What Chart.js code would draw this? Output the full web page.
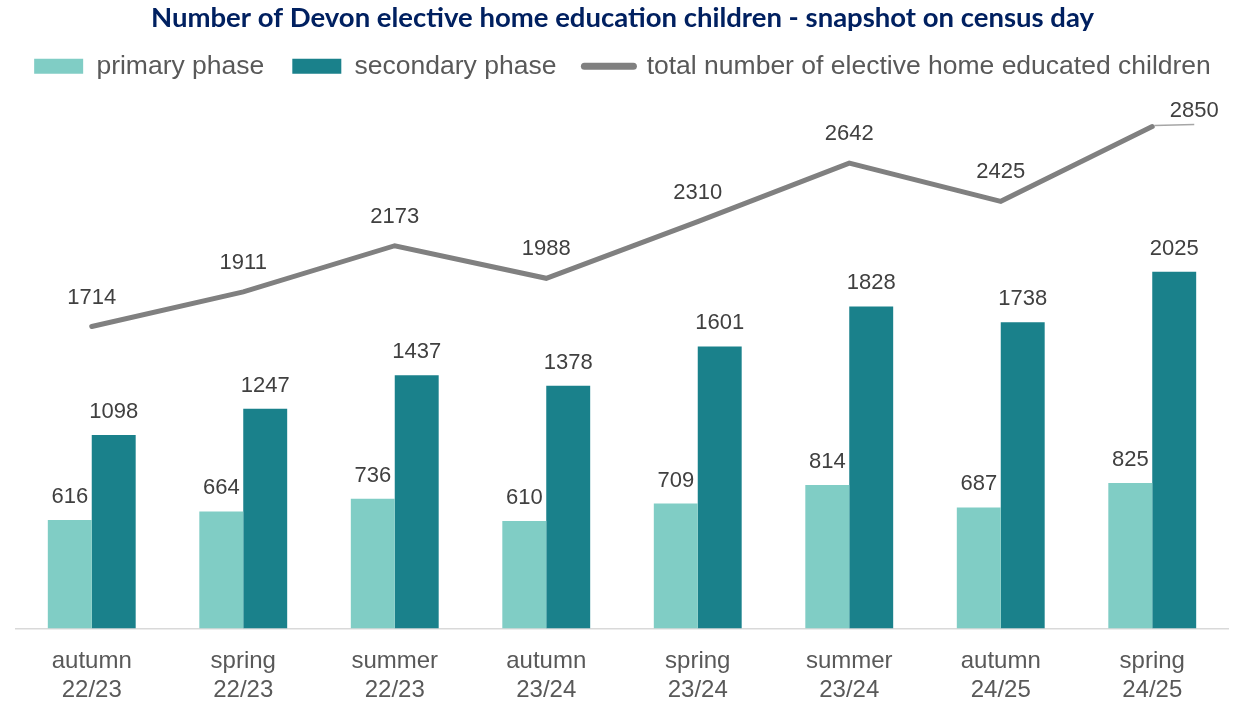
<!DOCTYPE html>
<html lang="en">

<head>
    <meta charset="UTF-8">
    <meta name="viewport" content="width=device-width, initial-scale=1.0">
    <script src="https://cdn.jsdelivr.net/npm/chart.js"></script>
    <title>Devon elective home education</title>
    <style>
        * {
            margin: 0px;
            padding: 0px;
        }

        body {
            background: #ffffff;
        }

        .contenedor {
            width: 1245px;
            height: 701px;
        }
    </style>
</head>

<body>
    <div class="contenedor">
        <canvas id="myChart"></canvas>
    </div>

    <script>
        const periodos = [
            ['autumn', '22/23'], ['spring', '22/23'], ['summer', '22/23'], ['autumn', '23/24'],
            ['spring', '23/24'], ['summer', '23/24'], ['autumn', '24/25'], ['spring', '24/25']
        ];
        const primaria = [616, 664, 736, 610, 709, 814, 687, 825];
        const secundaria = [1098, 1247, 1437, 1378, 1601, 1828, 1738, 2025];
        const total = [1714, 1911, 2173, 1988, 2310, 2642, 2425, 2850];

        const ctx = document.getElementById('myChart').getContext('2d');

        // etiquetas de valor encima de barras y puntos
        const etiquetasValor = {
            id: 'etiquetasValor',
            afterDatasetsDraw(chart) {
                const c = chart.ctx;
                c.save();
                c.font = '22px "Liberation Sans", Arial, sans-serif';
                c.fillStyle = '#404040';
                c.textAlign = 'center';
                c.textBaseline = 'alphabetic';
                chart.data.datasets.forEach((ds, i) => {
                    const meta = chart.getDatasetMeta(i);
                    meta.data.forEach((el, j) => {
                        const texto = String(ds.data[j]);
                        if (ds.type === 'line') {
                            if (j === ds.data.length - 1) {
                                // la última etiqueta va desplazada con línea guía
                                c.strokeStyle = '#a6a6a6';
                                c.lineWidth = 1.5;
                                c.beginPath();
                                c.moveTo(el.x + 2, el.y - 1);
                                c.lineTo(el.x + 42, el.y - 2);
                                c.stroke();
                                c.fillText(texto, el.x + 42, el.y - 9);
                            } else {
                                c.fillText(texto, el.x, el.y - 23);
                            }
                        } else {
                            c.fillText(texto, el.x, el.y - 17);
                        }
                    });
                });
                c.restore();
            }
        };

        // ejes invisibles que sólo reservan el margen lateral
        const ejeVacio = (ancho, pos) => ({
            display: true,
            position: pos,
            grid: { display: false },
            border: { display: false },
            ticks: { display: false },
            afterFit(scale) { scale.width = ancho; }
        });

        const myChart = new Chart(ctx, {
            data: {
                labels: periodos,
                datasets: [{
                    type: 'bar',
                    label: 'primary phase',
                    data: primaria,
                    backgroundColor: '#80cdc5',
                    categoryPercentage: 0.58,
                    barPercentage: 1.0,
                    order: 2
                }, {
                    type: 'bar',
                    label: 'secondary phase',
                    data: secundaria,
                    backgroundColor: '#1a818b',
                    categoryPercentage: 0.58,
                    barPercentage: 1.0,
                    order: 2
                }, {
                    type: 'line',
                    label: 'total number of elective home educated children',
                    data: total,
                    borderColor: '#808080',
                    backgroundColor: '#808080',
                    borderWidth: 5,
                    borderCapStyle: 'round',
                    pointRadius: 0,
                    pointHoverRadius: 0,
                    tension: 0,
                    fill: false,
                    order: 1
                }]
            },
            options: {
                responsive: true,
                maintainAspectRatio: false,
                animation: false,
                layout: {
                    padding: { left: 0, right: 0, top: 0, bottom: -15 }
                },
                scales: {
                    x: {
                        grid: { display: false },
                        border: { display: true, color: '#d9d9d9', width: 1.5 },
                        ticks: {
                            color: '#595959',
                            padding: 11,
                            font: { family: '"Liberation Sans", Arial, sans-serif', size: 24, lineHeight: 1.2 }
                        }
                    },
                    y: Object.assign(ejeVacio(16, 'left'), { min: 0, max: 3060 }),
                    derecha: ejeVacio(17, 'right')
                },
                plugins: {
                    title: {
                        display: true,
                        text: 'Number of Devon elective home education children - snapshot on census day',
                        color: '#002060',
                        font: { family: 'Lato, "Open Sans", sans-serif', size: 27.5, weight: 'bold' },
                        padding: { top: 2, bottom: -10 }
                    },
                    legend: {
                        display: true,
                        position: 'top',
                        labels: {
                            color: '#595959',
                            font: { family: '"Liberation Sans", Arial, sans-serif', size: 26.5 },
                            usePointStyle: true,
                            pointStyleWidth: 49,
                            boxHeight: 15,
                            padding: 28,
                            generateLabels(chart) {
                                return chart.data.datasets.map((ds, i) => ({
                                    text: ds.label,
                                    datasetIndex: i,
                                    fillStyle: ds.backgroundColor,
                                    strokeStyle: ds.type === 'line' ? ds.borderColor : ds.backgroundColor,
                                    lineWidth: ds.type === 'line' ? 7 : 0,
                                    lineCap: 'round',
                                    pointStyle: ds.type === 'line' ? 'line' : 'rect',
                                    fontColor: '#595959',
                                    hidden: false
                                }));
                            }
                        }
                    },
                    tooltip: { enabled: false }
                }
            },
            plugins: [etiquetasValor]
        });
    </script>
</body>

</html>
